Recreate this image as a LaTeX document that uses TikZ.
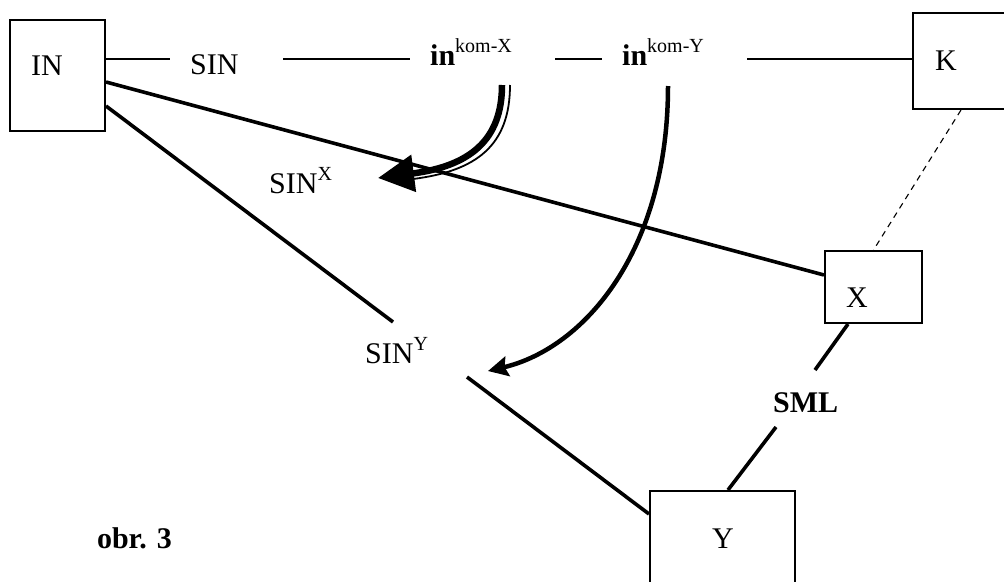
\documentclass[tikz,border=0pt]{standalone}
\usepackage{fontspec}
\setmainfont{Liberation Serif}
\usetikzlibrary{arrows.meta}
\newcommand\supx[1]{\raisebox{13pt}{\fontsize{20}{24}\selectfont #1}}
\begin{document}
\begin{tikzpicture}[x=1pt,y=-1pt,
  txt/.style={inner sep=0pt,anchor=base west,font=\fontsize{30}{36}\selectfont},
  boxnode/.style={draw,line width=2pt,inner sep=0pt},
  thinline/.style={line width=2pt},
  thickline/.style={line width=3.6pt},
  dashline/.style={line width=1.1pt,dash pattern=on 6pt off 5pt}]
\useasboundingbox (0,0) rectangle (1004,581);
\clip (0,0) rectangle (1004,581);
% boxes
\node[boxnode,minimum width=95pt,minimum height=111pt] (INbox) at (57.5,75.5) {};
\node[boxnode,minimum width=100pt,minimum height=96pt] (Kbox) at (963,61) {};
\node[boxnode,minimum width=97pt,minimum height=72pt] (Xbox) at (873.5,287) {};
\node[boxnode,minimum width=145pt,minimum height=100pt] (Ybox) at (722.5,541) {};
% texts
\node[txt] (INt) at (31,75) {IN};
\node[txt] (SIN) at (190,74) {SIN};
\node[txt] (inX) at (430,65) {\textbf{in}\supx{kom-X}};
\node[txt] (inY) at (622,65) {\textbf{in}\supx{kom-Y}};
\node[txt] (Kt) at (935,70) {K};
\node[txt] (SINX) at (269,193) {SIN\supx{X}};
\node[txt] (SINY) at (365,363) {SIN\supx{Y}};
\node[txt] (Xt) at (846,307) {X};
\node[txt] (Yt) at (712,548) {Y};
\node[txt] (SML) at (773,412) {\textbf{SML}};
\node[txt,anchor=base east] (obr) at (172,548) {\textbf{obr. 3}};
% free line ends
\coordinate (t1) at (170,59);
\coordinate (t2) at (283,59);
\coordinate (t3) at (410,59);
\coordinate (t4) at (555,59);
\coordinate (t5) at (602,59);
\coordinate (t6) at (747,59);
\coordinate (sy1) at (393,322);
\coordinate (sy2) at (467,377);
\coordinate (sm1) at (815,370);
\coordinate (sm2) at (776,427);
% top line
\draw[thinline] (INbox.east |- t1) -- (t1);
\draw[thinline] (t2) -- (t3);
\draw[thinline] (t4) -- (t5);
\draw[thinline] (t6) -- (Kbox.west |- t6);
% thick connectors
\draw[thickline] ([yshift=-63pt]INbox.north east) -- ([yshift=12pt]Xbox.west);
\draw[thickline] ([yshift=-87pt]INbox.north east) -- (sy1);
\draw[thickline] (sy2) -- ([yshift=-24pt]Ybox.north west);
\draw[thickline] ([xshift=24pt]Xbox.south west) -- (sm1);
\draw[thickline] (sm2) -- ([xshift=79pt]Ybox.north west);
\draw[dashline] ([xshift=49pt]Kbox.south west) -- (Xbox.north);
% curved arrows
\coordinate (a1s) at (502,85);
\coordinate (a1t) at (378,178);
\coordinate (a1u) at (510,85);
\coordinate (a1v) at (413,179);
\draw[line width=6.5pt,-{Triangle[length=36pt,width=36pt]}] (a1s) .. controls (502,140) and (470,166) .. (a1t);
\draw[line width=1.8pt] (a1u) .. controls (510,146) and (476,171) .. (a1v);
\coordinate (a2s) at (668,86);
\coordinate (a2t) at (488,371);
\draw[line width=4.5pt,-{Stealth[length=20pt,width=20pt,inset=3pt]}] (a2s) .. controls (668,250) and (585,348) .. (a2t);
\end{tikzpicture}
\end{document}
